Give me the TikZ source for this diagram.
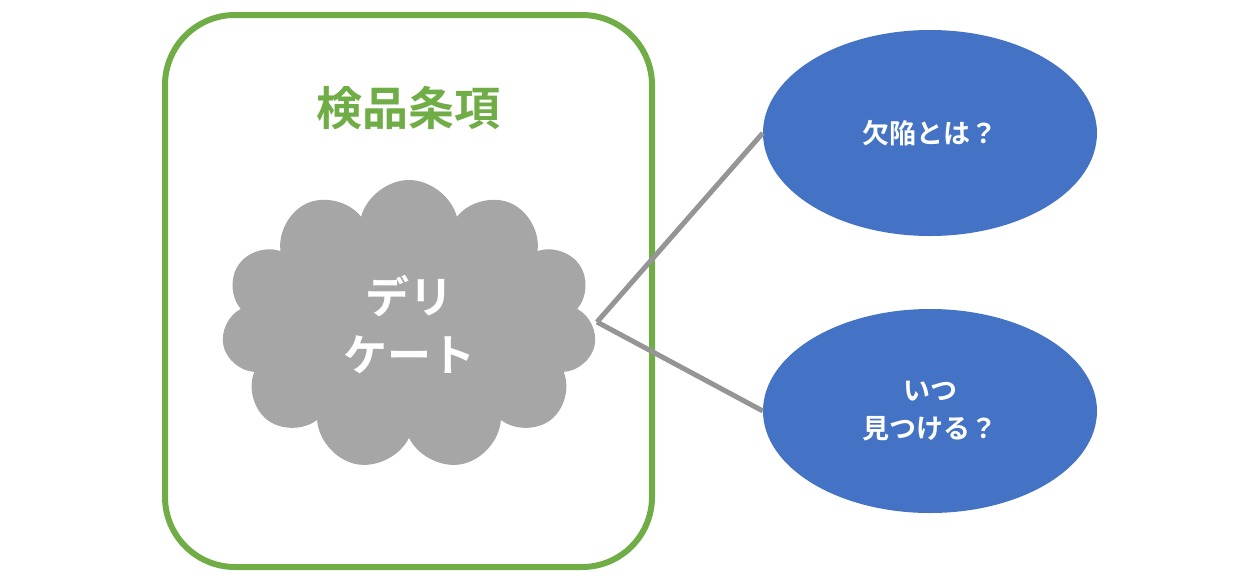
\documentclass[tikz,border=0pt]{standalone}
\usepackage{fontspec}
\newfontfamily\jp{Noto Sans CJK JP}[BoldFont={* Bold}]
\usetikzlibrary{shapes.symbols,shapes.geometric}
\definecolor{grn}{HTML}{70AD47}
\definecolor{blu}{HTML}{4472C4}
\definecolor{gry}{HTML}{A6A6A6}
\begin{document}
\begin{tikzpicture}[x=1pt,y=-1pt,
 conn/.style={draw=gry!90!black,line width=5pt},
 oval/.style={ellipse,fill=blu,draw=none,minimum width=334pt,minimum height=206pt,text=white,font=\jp\bfseries\fontsize{27}{38}\selectfont,align=center}]
\useasboundingbox (0,0) rectangle (1248,582);
\node[draw=grn,line width=6pt,rounded corners=70pt,minimum width=487pt,minimum height=552pt] (box) at (408.5,291) {};
\node[text=grn,font=\jp\bfseries\fontsize{46}{50}\selectfont] (t) at (408,108) {検品条項};
\node[cloud,cloud puffs=11,cloud ignores aspect,fill=gry,minimum width=375pt,minimum height=290pt,text=white,font=\jp\bfseries\fontsize{44}{58}\selectfont,align=center] (cl) at (409,325) {デリ\\ケート};
\node[oval] (e1) at (930,133) {欠陥とは？};
\node[oval,minimum height=204pt] (e2) at (930,411) {いつ\\見つける？};
\coordinate (p) at (597,322);
\draw[conn] (p) -- (e1.west);
\draw[conn] (p) -- (e2.west);
\end{tikzpicture}
\end{document}
